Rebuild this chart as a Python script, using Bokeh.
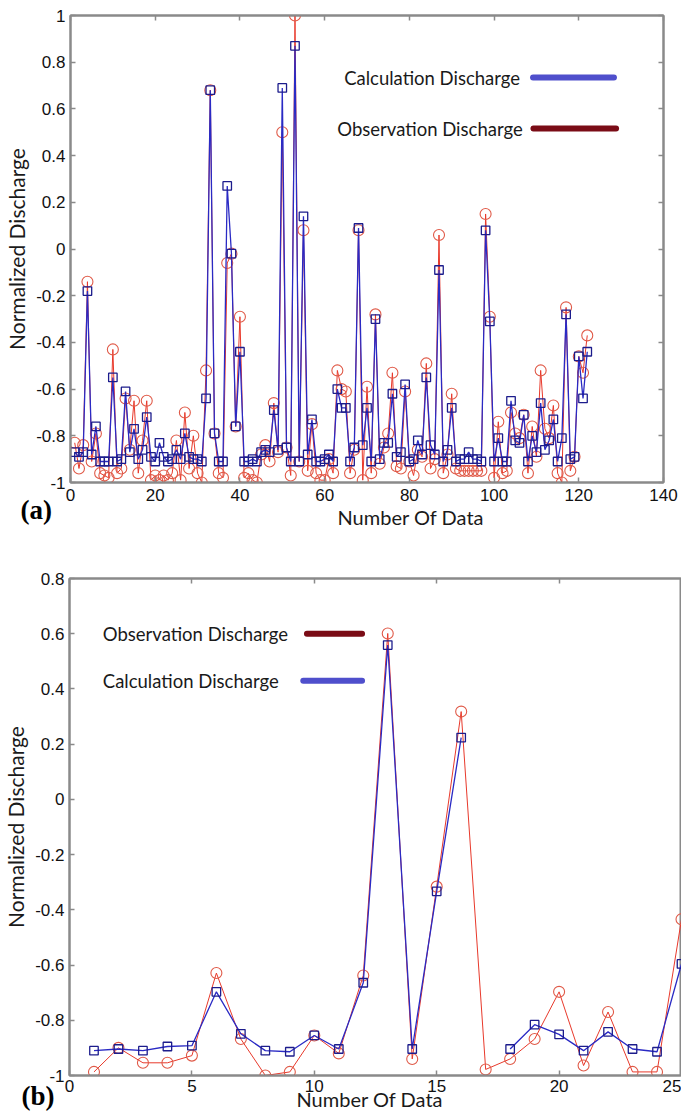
import numpy as np
from bokeh.plotting import figure
from bokeh.models import (Range1d, FixedTicker, LinearAxis, Label, Title,
                          PrintfTickFormatter, CustomJSTickFormatter, ColumnDataSource)
from bokeh.layouts import column, row
from bokeh.embed import file_html
from bokeh.resources import INLINE

# ---------------- Panel (a) data ----------------
a_index = list(range(1, 123))
a_calc = [-0.87, -0.89, -0.87, -0.18, -0.88, -0.76, -0.91, -0.91, -0.91, -0.55,
          -0.91, -0.90, -0.61, -0.87, -0.77, -0.90, -0.86, -0.72, -0.89, -0.91,
          -0.83, -0.89, -0.91, -0.90, -0.86, -0.90, -0.79, -0.89, -0.90, -0.90,
          -0.91, -0.64, 0.68, -0.79, -0.91, -0.91, 0.27, -0.02, -0.76, -0.44,
          -0.91, -0.91, -0.90, -0.91, -0.87, -0.86, -0.87, -0.69, -0.86, 0.69,
          -0.85, -0.91, 0.87, -0.91, 0.14, -0.88, -0.73, -0.91, -0.91, -0.90,
          -0.88, -0.91, -0.60, -0.68, -0.68, -0.91, -0.85, 0.09, -0.84, -0.68,
          -0.91, -0.30, -0.90, -0.83, -0.83, -0.62, -0.89, -0.87, -0.58, -0.91,
          -0.90, -0.82, -0.88, -0.55, -0.84, -0.88, -0.09, -0.91, -0.86, -0.68,
          -0.91, -0.90, -0.90, -0.87, -0.90, -0.90, -0.91, 0.08, -0.31, -0.91,
          -0.81, -0.91, -0.91, -0.65, -0.82, -0.83, -0.71, -0.91, -0.80, -0.87,
          -0.66, -0.86, -0.82, -0.73, -0.91, -0.81, -0.28, -0.90, -0.89, -0.46,
          -0.64, -0.44]
a_obs = [-0.83, -0.94, -0.84, -0.14, -0.91, -0.79, -0.96, -0.97, -0.98, -0.43,
         -0.96, -0.94, -0.64, -0.86, -0.65, -0.96, -0.82, -0.65, -0.99, -0.97,
         -0.99, -0.97, -0.99, -0.96, -0.82, -0.99, -0.70, -0.94, -0.80, -0.96,
         -1.00, -0.52, 0.68, -0.79, -0.96, -0.98, -0.06, -0.02, -0.76, -0.29,
         -0.98, -0.96, -0.99, -1.00, -0.88, -0.84, -0.91, -0.66, -0.87, 0.50,
         -0.85, -0.97, 1.00, -0.91, 0.08, -0.95, -0.75, -0.96, -0.99, -0.99,
         -0.90, -0.96, -0.52, -0.60, -0.61, -0.96, -0.86, 0.08, -0.99, -0.59,
         -0.96, -0.28, -0.92, -0.85, -0.79, -0.53, -0.93, -0.94, -0.61, -0.91,
         -0.97, -0.86, -0.89, -0.49, -0.94, -0.90, 0.06, -0.96, -0.88, -0.62,
         -0.94, -0.95, -0.95, -0.95, -0.95, -0.95, -0.95, 0.15, -0.29, -0.98,
         -0.74, -0.96, -0.95, -0.70, -0.79, -0.81, -0.71, -0.96, -0.76, -0.89,
         -0.52, -0.77, -0.81, -0.67, -0.96, -1.00, -0.25, -0.95, -0.89, -0.46,
         -0.53, -0.37]
a_xticks = [0, 20, 40, 60, 80, 100, 120, 140]
a_yticks = [-1, -0.8, -0.6, -0.4, -0.2, 0, 0.2, 0.4, 0.6, 0.8, 1]

# ---------------- Panel (b) data ----------------
b_index = list(range(1, 26))
b_obs = [-0.987, -0.90, -0.954, -0.954, -0.928, -0.629, -0.868, -1.0, -0.987, -0.855,
         -0.92, -0.638, 0.601, -0.94, -0.316, 0.318, -0.978, -0.94, -0.868, -0.697,
         -0.964, -0.77, -0.987, -0.987, -0.434]
b_calc = [-0.91, -0.904, -0.91, -0.895, -0.892, -0.697, -0.849, -0.91, -0.914, -0.855,
          -0.904, -0.664, 0.559, -0.904, -0.333, 0.224, float("nan"), -0.904, -0.816, -0.851,
          -0.91, -0.842, -0.904, -0.914, -0.596]
b_xticks = [0, 5, 10, 15, 20, 25]
b_yticks = [-1, -0.8, -0.6, -0.4, -0.2, 0, 0.2, 0.4, 0.6, 0.8]

GRAY = "#8a8a8a"
OBS_LINE = "#e8392b"
OBS_MARK = "#e05a48"
CALC_LINE = "#2a2ac4"
CALC_MARK = "#1c1c8c"
LEG_BLUE = "#4f4fcc"
LEG_RED = "#7a0c16"
SANS = "Lato"
TXT = "#1a1a1a"


def style_axis(ax, ticks, hide=False):
    ax.ticker = FixedTicker(ticks=ticks)
    ax.formatter = PrintfTickFormatter(format="%g")
    ax.axis_line_color = GRAY
    ax.axis_line_width = 2
    ax.major_tick_line_color = GRAY
    ax.major_tick_line_width = 1.5
    ax.major_tick_in = 5
    ax.major_tick_out = 0
    ax.minor_tick_line_color = None
    ax.major_label_text_font = "Liberation Sans"
    ax.major_label_text_font_size = "17px"
    ax.major_label_text_color = "#111111"
    if hide:
        ax.formatter = CustomJSTickFormatter(code="return ''")
        ax.major_label_text_font_size = "1px"
        ax.major_label_text_color = None
        ax.major_label_standoff = 0


def make_panel(x, obs, calc, xr, yr, xticks, yticks, w, h, borders, xstand, right_axis=True):
    p = figure(width=w, height=h, output_backend="svg", toolbar_location=None,
               x_range=Range1d(*xr), y_range=Range1d(*yr),
               min_border_left=borders[0], min_border_right=borders[1],
               min_border_top=borders[2], min_border_bottom=borders[3])
    p.grid.visible = False
    p.outline_line_color = GRAY
    p.outline_line_width = 2
    p.background_fill_color = "white"
    p.border_fill_color = "white"
    style_axis(p.xaxis[0], xticks)
    style_axis(p.yaxis[0], yticks)
    p.xaxis[0].major_label_standoff = xstand
    p.yaxis[0].major_label_standoff = 5
    p.yaxis[0].axis_label = "Normalized Discharge"
    p.yaxis[0].axis_label_text_font = SANS
    p.yaxis[0].axis_label_text_font_size = "21px"
    p.yaxis[0].axis_label_text_font_style = "normal"
    p.yaxis[0].axis_label_text_color = TXT
    p.yaxis[0].axis_label_standoff = 4
    top = LinearAxis()
    style_axis(top, xticks, hide=True)
    p.add_layout(top, "above")
    if right_axis:
        right = LinearAxis()
        style_axis(right, yticks, hide=True)
        p.add_layout(right, "right")

    src = ColumnDataSource(dict(x=np.array(x, dtype=float),
                                obs=np.array(obs, dtype=float),
                                calc=np.array(calc, dtype=float)))
    p.line("x", "obs", source=src, line_color=OBS_LINE, line_width=1)
    p.scatter("x", "obs", source=src, marker="circle", size=11, fill_color=None,
              line_color=OBS_MARK, line_width=1.1)
    p.line("x", "calc", source=src, line_color=CALC_LINE, line_width=1.3)
    p.scatter("x", "calc", source=src, marker="square", size=8.5, fill_color=None,
              line_color=CALC_MARK, line_width=1.3)
    return p


def legend_entry(p, text, tx, ty, lx0, lx1, color):
    p.add_layout(Label(x=tx, y=ty, text=text, text_align="left", text_baseline="middle",
                       text_font=SANS, text_font_size="18.5px", text_color=TXT))
    p.line([lx0, lx1], [ty, ty], line_color=color, line_width=6, line_cap="round")


def bottom_texts(p, tag, tag_offset, tag_standoff, xl_offset, xl_standoff):
    p.add_layout(Title(text=tag, align="left", offset=tag_offset, standoff=tag_standoff,
                       vertical_align="top", text_font="Liberation Serif",
                       text_font_style="bold", text_font_size="27px",
                       text_color="black"), "below")
    p.add_layout(Title(text="Number Of Data", align="left", offset=xl_offset,
                       standoff=xl_standoff, vertical_align="top", text_font=SANS,
                       text_font_style="normal", text_font_size="20px",
                       text_color=TXT), "below")


# ---- Panel (a)
p1 = make_panel(a_index, a_obs, a_calc, (0, 140), (-1, 1), a_xticks, a_yticks,
                681, 540, (70, 18, 15, 58), 6)
legend_entry(p1, "Calculation Discharge", 64.6, 0.734, 109.2, 128.3, LEG_BLUE)
legend_entry(p1, "Observation Discharge", 63.0, 0.516, 109.3, 128.8, LEG_RED)
bottom_texts(p1, "(a)", -50, -18, 267, -26)

# ---- Panel (b)
p2 = make_panel(b_index, b_obs, b_calc, (0, 25), (-1, 0.8), b_xticks, b_yticks,
                681, 572, (68, 0, 38, 37), 4, right_axis=False)
legend_entry(p2, "Observation Discharge", 1.36, 0.60, 9.7, 11.95, LEG_RED)
legend_entry(p2, "Calculation Discharge", 1.36, 0.43, 9.55, 11.95, LEG_BLUE)
bottom_texts(p2, "(b)", -48, -28, 227, -24)

layout = column(row(p1), row(p2), spacing=0)
open("out.html", "w").write(file_html(layout, INLINE))
